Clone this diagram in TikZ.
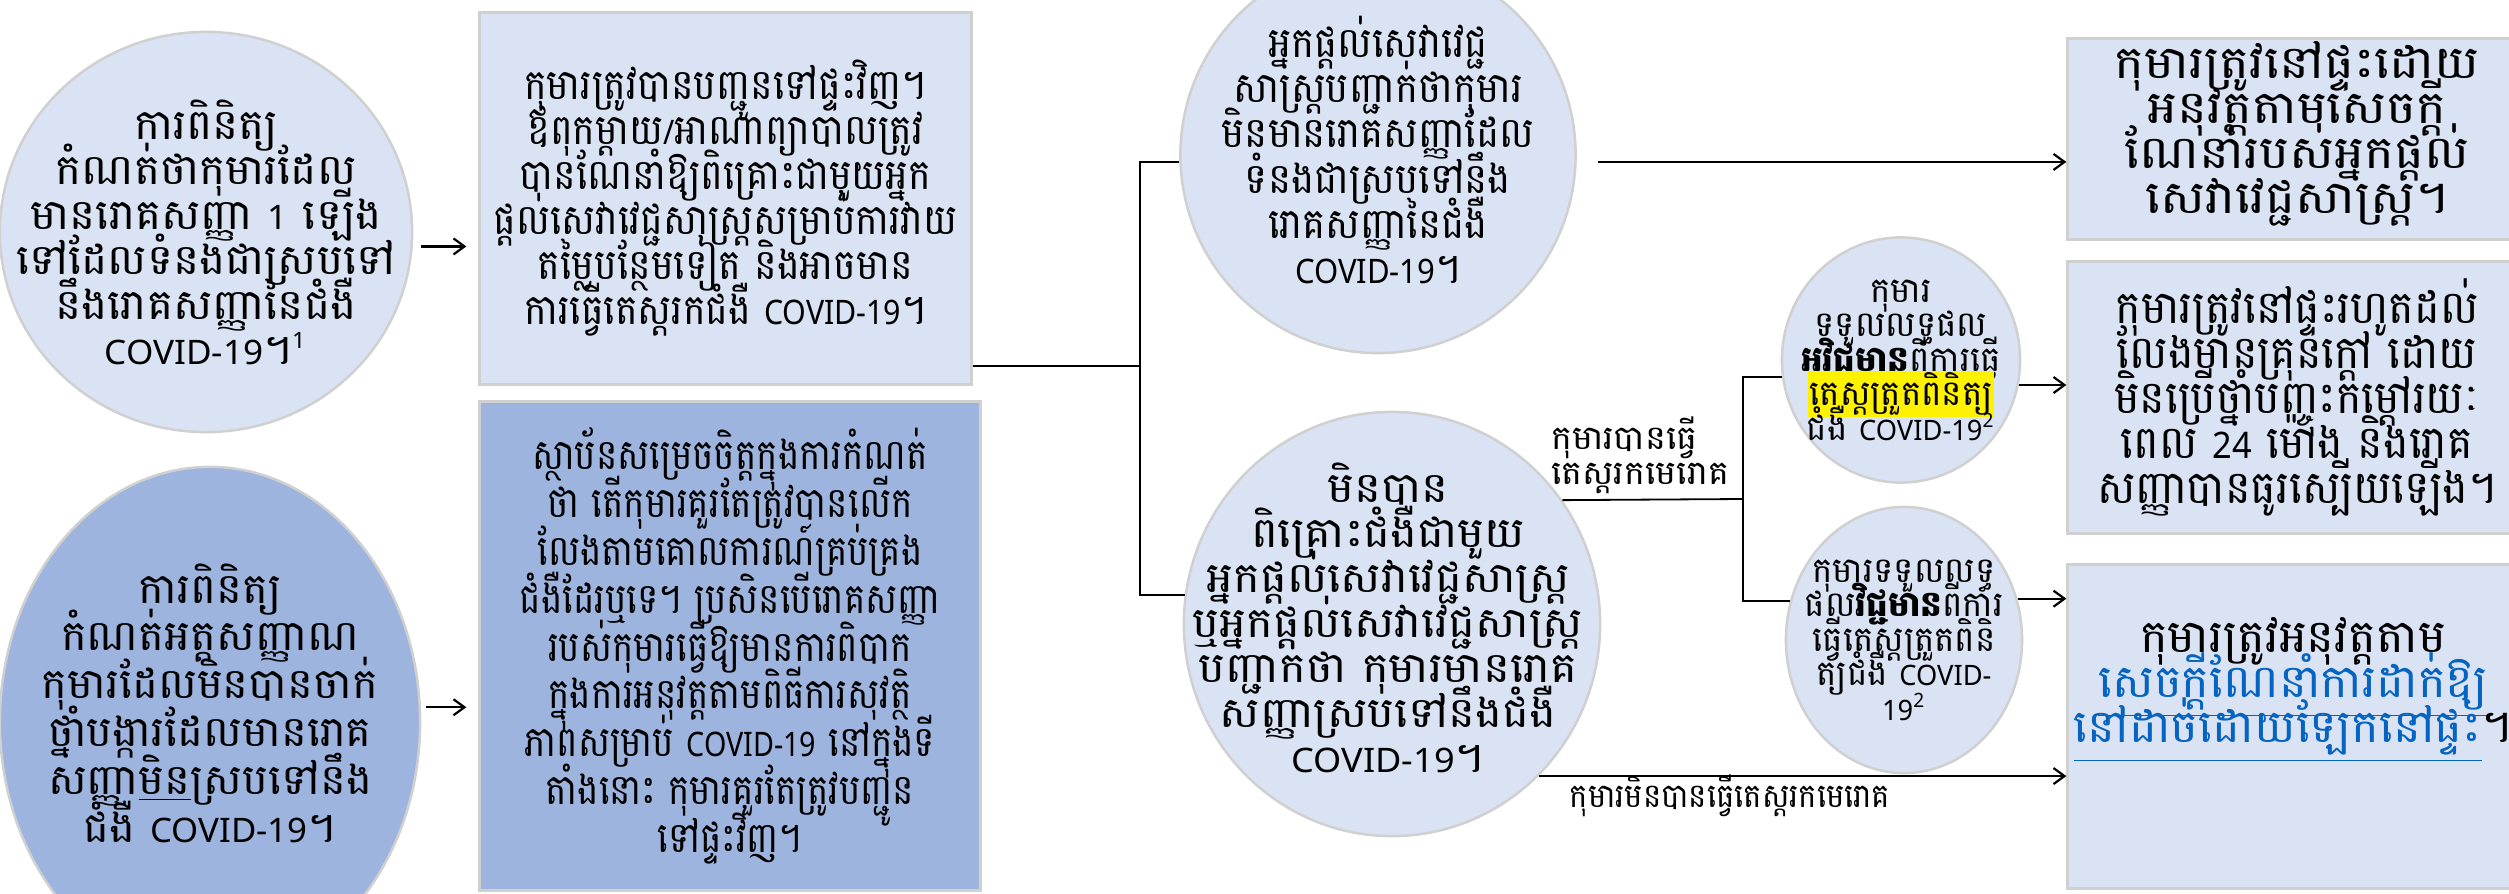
\documentclass[tikz,border=0pt]{standalone}
\usepackage{fontspec}
\usetikzlibrary{arrows.meta,shapes.geometric}
\setmainfont[Script=Khmer]{Battambang}
\newfontfamily\latfont[Scale=0.8]{Noto Sans}
\definecolor{paleblue}{HTML}{DAE3F3}
\definecolor{midblue}{HTML}{9DB4DF}
\definecolor{rimgray}{HTML}{D0D0D0}
\definecolor{linkblue}{HTML}{0563C1}
\newcommand{\cvd}{{\latfont COVID-19}}
\newcommand{\khbig}{\fontsize{12}{12.8}\selectfont\lineskiplimit=-20pt}
\newcommand{\khloose}{\fontsize{12}{13.6}\selectfont\lineskiplimit=-20pt}
\newcommand{\khlarge}{\fontsize{13}{12.8}\selectfont\lineskiplimit=-20pt}
\newcommand{\khsmall}{\fontsize{10}{9.8}\selectfont\lineskiplimit=-20pt}
\newcommand{\khtag}{\fontsize{9.5}{9.8}\selectfont\lineskiplimit=-20pt}
\setlength{\fboxsep}{0.4pt}

\begin{document}
\begin{tikzpicture}[x=0.01cm, y=-0.01cm,
  disc/.style={ellipse, draw=rimgray, line width=0.25mm, fill=paleblue, inner sep=0pt},
  card/.style={rectangle, draw=rimgray, line width=0.3mm, fill=paleblue, inner sep=0pt},
  txt/.style={align=center, inner sep=0pt, font=\khbig, transform shape},
  loosetxt/.style={txt, font=\khloose},
  bigtxt/.style={txt, font=\khlarge},
  smalltxt/.style={txt, font=\khsmall},
  tag/.style={align=left, inner sep=0pt, font=\khtag, transform shape},
  link/.style={line width=0.18mm},
  arr/.style={line width=0.22mm, -{Straight Barb[length=1.1mm, width=1.6mm]}}]

  \useasboundingbox (0,0) rectangle (2509,894);

  % Circles
  \node[disc, minimum width=4.12cm, minimum height=4.0cm] (c1) at (206,232) {};
  \node[disc, fill=midblue, minimum width=4.2cm, minimum height=5.1cm] (c2) at (210,722) {};
  \node[disc, minimum width=3.95cm, minimum height=3.96cm] (c3) at (1378,155) {};
  \node[disc, minimum width=4.16cm, minimum height=4.24cm] (c4) at (1392,624) {};
  \node[disc, minimum width=2.38cm, minimum height=2.45cm] (s1) at (1901,360) {};
  \node[disc, minimum width=2.36cm, minimum height=2.66cm] (s2) at (1904,640) {};

  % Boxes
  \node[card, minimum width=4.91cm, minimum height=3.71cm] (b1) at (725.5,198.5) {};
  \node[card, fill=midblue, minimum width=5.0cm, minimum height=4.88cm] (b2) at (730,646) {};
  \node[card, minimum width=4.58cm, minimum height=2.0cm] (b3) at (2297,139) {};
  \node[card, minimum width=4.58cm, minimum height=2.71cm] (b4) at (2297,397.5) {};
  \node[card, minimum width=4.58cm, minimum height=3.23cm] (b5) at (2297,726.5) {};

  % Texts
  \coordinate (c2-m) at (210,703);
  \coordinate (c3-m) at (1378,150);
  \coordinate (c4-m) at (1388,618);
  \coordinate (b3-m) at (2297,134);
  \coordinate (b5-m) at (2293,690);
  \coordinate (no-m) at (1730,796);
  \node[txt, xscale=1.04] (c1-t) at (c1) {ការពិនិត្យ\\កំណត់ថាកុមារដែល\\មានរោគសញ្ញា {\latfont 1} ឡើង\\ទៅដែលទំនងជាស្របទៅ\\នឹងរោគសញ្ញានៃជំងឺ\\\cvd។\textsuperscript{\latfont 1}};
  \node[loosetxt, xscale=1.03] (c2-t) at (c2-m) {ការពិនិត្យ\\កំណត់អត្តសញ្ញាណ\\កុមារដែលមិនបានចាក់\\ថ្នាំបង្ការដែលមានរោគ\\សញ្ញា\underline{មិន}ស្របទៅនឹង\\ជំងឺ \cvd។};
  \node[txt, xscale=0.92] (c3-t) at (c3-m) {អ្នកផ្ដល់សេវាវេជ្ជ\\សាស្ត្របញ្ជាក់ថាកុមារ\\មិនមានរោគសញ្ញាដែល\\ទំនងជាស្របទៅនឹង\\រោគសញ្ញានៃជំងឺ\\\cvd។};
  \node[txt, xscale=1.07] (c4-t) at (c4-m) {មិនបាន\\ពិគ្រោះជំងឺជាមួយ\\អ្នកផ្ដល់សេវាវេជ្ជសាស្ត្រ\\ឬអ្នកផ្ដល់សេវាវេជ្ជសាស្ត្រ\\បញ្ជាក់ថា កុមារមានរោគ\\សញ្ញាស្របទៅនឹងជំងឺ\\\cvd។};
  \node[txt, xscale=0.9] (b1-t) at (b1) {កុមារត្រូវបានបញ្ជូនទៅផ្ទះវិញ។\\ឪពុកម្ដាយ{\latfont /}អាណាព្យាបាលត្រូវ\\បានណែនាំឱ្យពិគ្រោះជាមួយអ្នក\\ផ្ដល់សេវាវេជ្ជសាស្ត្រសម្រាប់ការវាយ\\តម្លៃបន្ថែមទៀត និងអាចមាន\\ការធ្វើតេស្តរកជំងឺ \cvd។};
  \node[loosetxt, xscale=0.85] (b2-t) at (b2) {ស្ថាប័នសម្រេចចិត្តក្នុងការកំណត់\\ថា តើកុមារគួរតែត្រូវបានលើក\\លែងតាមគោលការណ៍គ្រប់គ្រង\\ជំងឺដែរឬទេ។ ប្រសិនបើរោគសញ្ញា\\របស់កុមារធ្វើឱ្យមានការពិបាក\\ក្នុងការអនុវត្តតាមពិធីការសុវត្ថិ\\ភាពសម្រាប់ \cvd\ នៅក្នុងទី\\តាំងនោះ កុមារគួរតែត្រូវបញ្ជូន\\ទៅផ្ទះវិញ។};
  \node[bigtxt, xscale=1.1] (b3-t) at (b3-m) {កុមារត្រូវនៅផ្ទះដោយ\\អនុវត្តតាមសេចក្ដី\\ណែនាំរបស់អ្នកផ្ដល់\\សេវាវេជ្ជសាស្ត្រ។};
  \node[bigtxt, xscale=0.94] (b4-t) at (b4) {កុមារត្រូវនៅផ្ទះរហូតដល់\\លែងមានគ្រុនក្ដៅ ដោយ\\មិនប្រើថ្នាំបញ្ចុះកម្ដៅរយៈ\\ពេល {\latfont 24} ម៉ោង និងរោគ\\សញ្ញាបានធូរស្បើយឡើង។};
  \node[bigtxt, xscale=1.02] (b5-t) at (b5-m) {កុមារត្រូវអនុវត្តតាម\\\textcolor{linkblue}{\underline{សេចក្ដីណែនាំការដាក់ឱ្យ}}\\\textcolor{linkblue}{\underline{នៅដាច់ដោយឡែកនៅផ្ទះ}}។};
  \node[smalltxt, xscale=0.97] (s1-t) at (s1) {កុមារ\\ទទួលលទ្ធផល\\\textbf{អវិជ្ជមាន}ពីការធ្វើ\\\colorbox{yellow}{តេស្តត្រួតពិនិត្យ}\\ជំងឺ \cvd\textsuperscript{\latfont 2}};
  \node[smalltxt, xscale=0.97] (s2-t) at (s2) {កុមារទទួលលទ្ធ\\ផល\textbf{វិជ្ជមាន}ពីការ\\ធ្វើតេស្តត្រួតពិនិ\\ត្យជំងឺ {\latfont COVID-}\\{\latfont 19}\textsuperscript{\latfont 2}};
  \node[tag, anchor=south west, xscale=1.05] (yes-t) at ([xshift=-1.2mm, yshift=0.6mm]c4.36) {កុមារបានធ្វើ\\តេស្តរកមេរោគ};
  \node[tag, xscale=0.92] (no-t) at (no-m) {កុមារមិនបានធ្វើតេស្តរកមេរោគ};

  % Links
  \coordinate (j1) at (1140,366);
  \coordinate (j2) at (1743,499);
  \draw[arr, shorten >=1.2mm] ([xshift=0.8mm]c1.-4) -- (c1.-4 -| b1.west);
  \draw[arr, shorten >=1.2mm] ([xshift=0.5mm]c2.4) -- (c2.4 -| b2.west);
  \draw[link] (j1 -| b1.east) -- (j1);
  \draw[link] (c3.182) -| (j1) |- (c4.172);
  \draw[arr] ([xshift=2.1mm]c3.-2) -- (c3.-2 -| b3.west);
  \draw[link] (c4.36) -- (j2);
  \draw[link] (s1.188) -| (j2) |- (s2.161);
  \draw[arr] (s1.-12) -- (s1.-12 -| b4.west);
  \draw[arr] (s2.20) -- (s2.20 -| b5.west);
  \draw[arr] (c4.-46) -- (c4.-46 -| b5.west);
\end{tikzpicture}
\end{document}
